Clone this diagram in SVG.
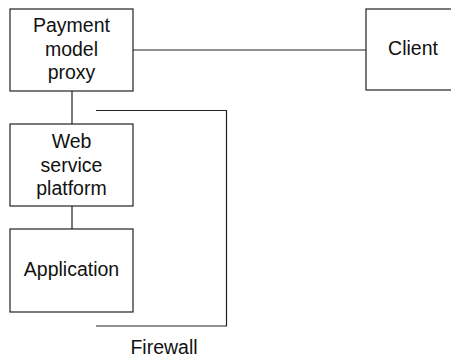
<svg xmlns="http://www.w3.org/2000/svg" width="451" height="358" viewBox="0 0 451 358">
  <style>
    .box { fill: #fff; stroke: #222; stroke-width: 1.2; }
    .wire { fill: none; stroke: #222; stroke-width: 1.2; }
    text { font-family: "Liberation Sans", Arial, sans-serif; font-size: 19.5px; fill: #111; text-anchor: middle; }
  </style>
  <rect width="451" height="358" fill="#fff"/>
  <g id="connectors">
    <line class="wire" x1="133" y1="50" x2="366" y2="50"/>
    <line class="wire" x1="72" y1="91" x2="72" y2="124"/>
    <line class="wire" x1="72" y1="206" x2="72" y2="229"/>
    <polyline class="wire" points="96,110.5 226.5,110.5 226.5,326 96,326"/>
  </g>
  <g id="payment-proxy">
    <rect class="box" x="10" y="9" width="123" height="82"/>
    <text x="71.5" y="32">Payment</text>
    <text x="71.5" y="55.5">model</text>
    <text x="71.5" y="79">proxy</text>
  </g>
  <g id="client">
    <rect class="box" x="366" y="9" width="95" height="81"/>
    <text x="413" y="55">Client</text>
  </g>
  <g id="web-service-platform">
    <rect class="box" x="10" y="124" width="123" height="82"/>
    <text x="71.5" y="148">Web</text>
    <text x="71.5" y="172">service</text>
    <text x="71.5" y="195">platform</text>
  </g>
  <g id="application">
    <rect class="box" x="10" y="229" width="123" height="83"/>
    <text x="71.5" y="276">Application</text>
  </g>
  <g id="firewall-label">
    <text x="164" y="354">Firewall</text>
  </g>
</svg>
